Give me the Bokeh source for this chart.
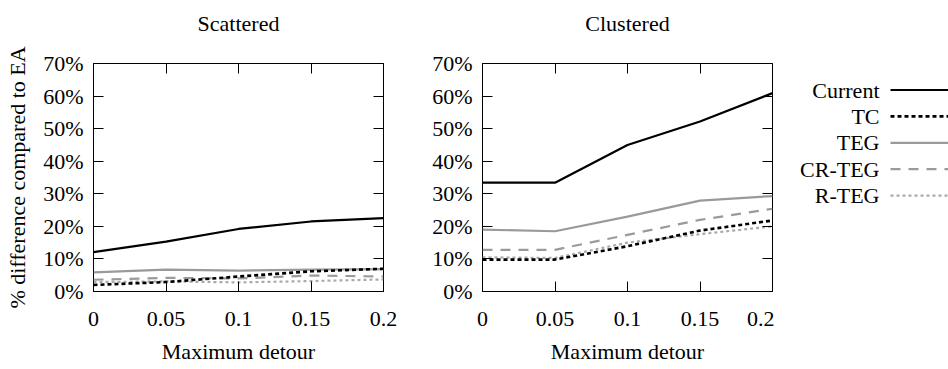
from bokeh.plotting import figure
from bokeh.models import Range1d, FixedTicker, LinearAxis, ColumnDataSource
from bokeh.layouts import row
from bokeh.embed import file_html
from bokeh.resources import INLINE
from bokeh.core.properties import value

# ---- data ----
detour = [0, 0.05, 0.1, 0.15, 0.2]
x_tick_labels = ["0", "0.05", "0.1", "0.15", "0.2"]
y_ticks = [0, 10, 20, 30, 40, 50, 60, 70]
y_tick_labels = ["0%", "10%", "20%", "30%", "40%", "50%", "60%", "70%"]

series_names = ["Current", "TC", "TEG", "CR-TEG", "R-TEG"]

scattered_current = [12.1, 15.3, 19.2, 21.5, 22.5]
scattered_tc = [2.0, 2.9, 4.6, 6.2, 7.0]
scattered_teg = [5.9, 6.7, 6.4, 6.7, 6.9]
scattered_crteg = [3.6, 4.2, 4.0, 4.9, 4.6]
scattered_rteg = [2.9, 3.1, 2.8, 3.2, 3.7]

clustered_current = [33.4, 33.4, 45.0, 52.2, 60.9]
clustered_tc = [9.8, 9.8, 13.9, 18.7, 21.8]
clustered_teg = [19.0, 18.5, 23.0, 27.9, 29.3]
clustered_crteg = [12.8, 12.8, 17.4, 22.0, 25.4]
clustered_rteg = [10.5, 10.3, 15.0, 17.6, 20.0]

AX_FONT = "Times"
LEG_FONT = "Liberation Serif"
FS = "22px"

styles = {
    "Current": dict(line_color="black", line_width=2.2, line_dash="solid"),
    "TC": dict(line_color="black", line_width=2.6, line_dash="4 3"),
    "TEG": dict(line_color="#9a9a9a", line_width=2.2, line_dash="solid"),
    "CR-TEG": dict(line_color="#9a9a9a", line_width=2.2, line_dash="10 8"),
    "R-TEG": dict(line_color="#aaaaaa", line_width=2.2, line_dash="3 3"),
}


def style_axis(ax):
    ax.axis_line_color = None
    ax.major_tick_in = 10
    ax.major_tick_out = 0
    ax.minor_tick_in = 0
    ax.minor_tick_out = 0
    ax.major_tick_line_color = "black"
    ax.major_label_text_font = AX_FONT
    ax.major_label_text_font_size = FS
    ax.major_label_text_color = "black"
    ax.axis_label_text_font = AX_FONT
    ax.axis_label_text_font_size = FS
    ax.axis_label_text_font_style = "normal"
    ax.axis_label_text_color = "black"


def make_panel(title, data, width, left, right, ylabel=None):
    p = figure(width=width, height=369, output_backend="svg", toolbar_location=None,
               title=None,
               x_range=Range1d(0, 0.2), y_range=Range1d(0, 70),
               min_border_left=left, min_border_right=right,
               min_border_top=63, min_border_bottom=78)
    p.grid.visible = False
    p.outline_line_color = "black"
    p.outline_line_width = 1
    p.background_fill_color = "white"
    p.border_fill_color = "white"

    p.xaxis.ticker = FixedTicker(ticks=detour, minor_ticks=[])
    p.yaxis.ticker = FixedTicker(ticks=y_ticks, minor_ticks=[])
    p.xaxis.major_label_overrides = {t: l for t, l in zip(detour, x_tick_labels)}
    p.yaxis.major_label_overrides = {t: l for t, l in zip(y_ticks, y_tick_labels)}
    p.xaxis.axis_label = "Maximum detour"
    p.xaxis.major_label_standoff = 20
    p.xaxis.axis_label_standoff = 10
    p.yaxis.major_label_standoff = 10
    if ylabel:
        p.yaxis.axis_label = ylabel
        p.yaxis.axis_label_standoff = 10
    for ax in p.xaxis + p.yaxis:
        style_axis(ax)

    # mirrored tick marks on top and right; the panel title is the top axis label
    top = LinearAxis(ticker=FixedTicker(ticks=detour, minor_ticks=[]))
    rgt = LinearAxis(ticker=FixedTicker(ticks=y_ticks, minor_ticks=[]))
    for ax in (top, rgt):
        style_axis(ax)
        ax.major_label_standoff = 0
    top.major_label_overrides = {t: "" for t in detour}
    rgt.major_label_overrides = {t: "" for t in y_ticks}
    top.axis_label = title
    top.axis_label_standoff = 28
    p.add_layout(top, "above")
    p.add_layout(rgt, "right")

    for name in ["R-TEG", "CR-TEG", "TEG", "TC", "Current"]:
        src = ColumnDataSource(dict(x=detour, y=data[name]))
        p.line("x", "y", source=src, **styles[name])
    return p


p1 = make_panel("Scattered", {"Current": scattered_current, "TC": scattered_tc,
                              "TEG": scattered_teg, "CR-TEG": scattered_crteg,
                              "R-TEG": scattered_rteg},
                400, 93, 17, ylabel="% difference compared to EA")
p2 = make_panel("Clustered", {"Current": clustered_current, "TC": clustered_tc,
                              "TEG": clustered_teg, "CR-TEG": clustered_crteg,
                              "R-TEG": clustered_rteg},
                374, 82, 2)

# ---- legend panel (frame aligned with the plots; ranges in screen pixels) ----
leg = figure(width=174, height=369, output_backend="svg", toolbar_location=None,
             title=None, x_axis_type=None, y_axis_type=None,
             x_range=Range1d(774, 948), y_range=Range1d(291, 63),
             min_border_left=0, min_border_right=0, min_border_top=63, min_border_bottom=78)
leg.grid.visible = False
leg.outline_line_color = None
row_y0, row_dy = 89.5, 26.4
text_right, seg_x0, seg_x1 = 879, 890, 950
for i, name in enumerate(series_names):
    yy = row_y0 + i * row_dy
    leg.text(x=[text_right], y=[yy], text=[name], text_align="right", text_baseline="middle",
             text_font=value(LEG_FONT), text_font_size=FS, text_color="black")
    leg.segment(x0=[seg_x0], y0=[yy], x1=[seg_x1], y1=[yy], **styles[name])

layout = row(p1, p2, leg, spacing=0)
open("out.html", "w").write(file_html(layout, INLINE))
